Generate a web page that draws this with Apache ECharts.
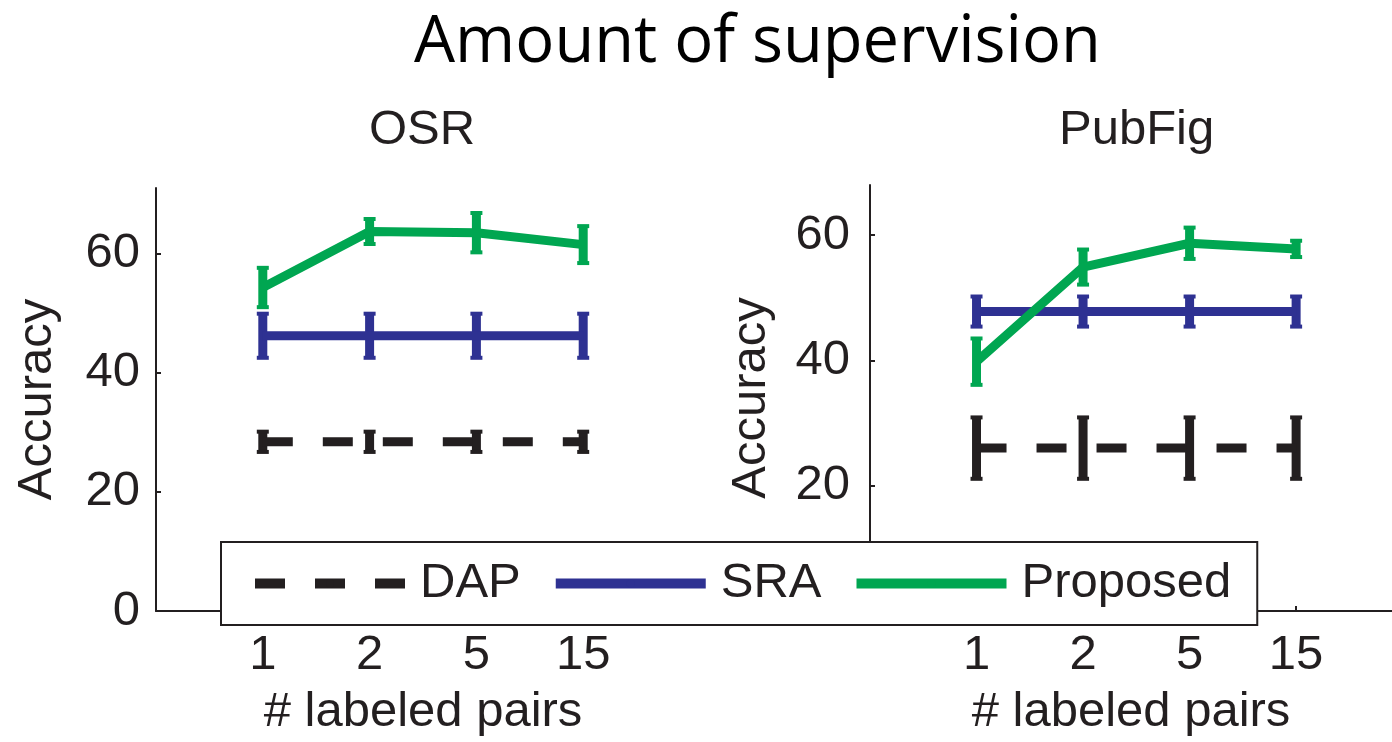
<!DOCTYPE html>
<html>
<head>
<meta charset="utf-8">
<script src="https://cdn.jsdelivr.net/npm/echarts@6/dist/echarts.min.js"></script>
<style>
  html, body { margin: 0; padding: 0; background: #fff; }
  #chart { width: 1392px; height: 742px; }
</style>
</head>
<body>
<div id="chart"></div>
<script>
// x categories (# labeled pairs) and y ticks
const pairLabels = ['1', '2', '5', '15'];
const accuracyTicks = [0, 20, 40, 60];
const seriesNames = ['DAP', 'SRA', 'Proposed'];

// OSR panel
const osrDap = [28.4, 28.4, 28.4, 28.4];
const osrDapErr = [1.7, 1.7, 1.7, 1.7];
const osrSra = [46.2, 46.2, 46.2, 46.2];
const osrSraErr = [3.7, 3.7, 3.7, 3.7];
const osrProposed = [54.3, 63.7, 63.5, 61.5];
const osrProposedErr = [3.3, 2.1, 3.3, 3.1];

// PubFig panel
const pubDap = [26.0, 26.0, 26.0, 26.0];
const pubDapErr = [4.9, 4.9, 4.9, 4.9];
const pubSra = [47.8, 47.8, 47.8, 47.8];
const pubSraErr = [2.4, 2.4, 2.4, 2.4];
const pubProposed = [39.8, 54.9, 58.7, 57.8];
const pubProposedErr = [3.7, 2.8, 2.5, 1.3];

const FONT = '"Liberation Sans", Arial, sans-serif';
const INK = '#231f20';
const COLORS = { DAP: '#231f20', SRA: '#2e3192', Proposed: '#00a651' };

const points = (vals) => vals.map((v, i) => [i + 1, v]);
const bars = (vals, errs) => vals.map((v, i) => [i + 1, v - errs[i], v + errs[i]]);

// vertical error bar with small caps
function errorBar(params, api) {
  const x = api.value(0);
  const lo = api.coord([x, api.value(1)]);
  const hi = api.coord([x, api.value(2)]);
  const color = api.visual('color');
  const cap = (p) => ({
    type: 'line',
    shape: { x1: p[0] - 6, y1: p[1], x2: p[0] + 6, y2: p[1] },
    style: { stroke: color, lineWidth: 4 }
  });
  return {
    type: 'group',
    children: [
      { type: 'line', shape: { x1: lo[0], y1: lo[1], x2: hi[0], y2: hi[1] }, style: { stroke: color, lineWidth: 9 } },
      cap(lo), cap(hi)
    ]
  };
}

function panelSeries(idx, data) {
  const out = [];
  seriesNames.forEach((name) => {
    const [vals, errs] = data[name];
    out.push({
      name: name,
      type: 'line',
      xAxisIndex: idx,
      yAxisIndex: idx,
      data: points(vals),
      symbol: 'none',
      itemStyle: { color: COLORS[name] },
      lineStyle: { color: COLORS[name], width: 9, type: name === 'DAP' ? [30, 30] : 'solid' }
    });
    out.push({
      name: name + ' err',
      type: 'custom',
      xAxisIndex: idx,
      yAxisIndex: idx,
      renderItem: errorBar,
      itemStyle: { color: COLORS[name] },
      encode: { x: 0, y: [1, 2] },
      data: bars(vals, errs)
    });
  });
  return out;
}

const labelStyle = { fontFamily: FONT, fontSize: 49, color: INK };

function xAxis(idx, max) {
  return {
    type: 'value',
    gridIndex: idx,
    min: 0,
    max: max,
    axisLine: { lineStyle: { color: INK, width: 2 } },
    axisTick: { inside: true, length: 5, customValues: [1, 2, 3, 4], lineStyle: { color: INK, width: 2 } },
    axisLabel: Object.assign({ customValues: [1, 2, 3, 4], margin: 20, formatter: (v) => pairLabels[v - 1] }, labelStyle),
    splitLine: { show: false },
    name: '# labeled pairs',
    nameLocation: 'middle',
    nameGap: 77,
    nameTextStyle: labelStyle
  };
}

function yAxis(idx, max, margin) {
  return {
    type: 'value',
    gridIndex: idx,
    min: 0,
    max: max,
    axisLine: { show: true, lineStyle: { color: INK, width: 2 } },
    axisTick: { show: true, inside: true, length: 5, customValues: accuracyTicks, lineStyle: { color: INK, width: 2 } },
    axisLabel: Object.assign({ customValues: accuracyTicks, margin: margin }, labelStyle),
    splitLine: { show: false },
    name: 'Accuracy',
    nameLocation: 'middle',
    nameGap: 94,
    nameTextStyle: labelStyle
  };
}

const chart = echarts.init(document.getElementById('chart'));
chart.setOption({
  animation: false,
  backgroundColor: '#fff',
  title: [
    { text: 'Amount of supervision', left: 409, top: 6, textStyle: { fontFamily: '"Open Sans", sans-serif', fontSize: 65, fontWeight: 'normal', color: '#000' } },
    { text: 'OSR', left: 364, top: 101, textStyle: Object.assign({ fontWeight: 'normal' }, labelStyle) },
    { text: 'PubFig', left: 1054, top: 101, textStyle: Object.assign({ fontWeight: 'normal' }, labelStyle) }
  ],
  grid: [
    { left: 156, top: 188, width: 534, height: 425 },
    { left: 870, top: 185, width: 522, height: 428 }
  ],
  xAxis: [xAxis(0, 5), xAxis(1, 4.9)],
  yAxis: [yAxis(0, 71, 16), yAxis(1, 68, 20)],
  legend: {
    data: seriesNames,
    left: 221,
    top: 542,
    padding: [17, 26, 17, 29],
    itemWidth: 150,
    itemHeight: 10,
    itemGap: 30,
    selectedMode: false,
    backgroundColor: '#fff',
    borderColor: INK,
    borderWidth: 2,
    lineStyle: { width: 10 },
    textStyle: Object.assign({ padding: [0, 0, 0, 10] }, labelStyle)
  },
  series: panelSeries(0, {
    DAP: [osrDap, osrDapErr],
    SRA: [osrSra, osrSraErr],
    Proposed: [osrProposed, osrProposedErr]
  }).concat(panelSeries(1, {
    DAP: [pubDap, pubDapErr],
    SRA: [pubSra, pubSraErr],
    Proposed: [pubProposed, pubProposedErr]
  }))
});
</script>
</body>
</html>
